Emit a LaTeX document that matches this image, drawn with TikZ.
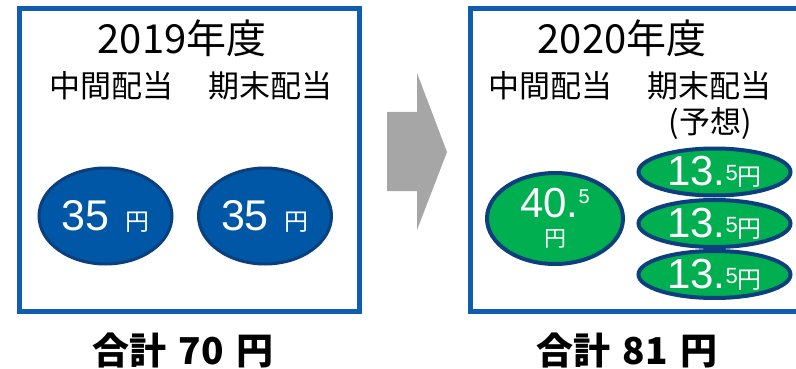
\documentclass[tikz,border=0pt]{standalone}
\usepackage{fontspec}
\setmainfont{Liberation Sans}
\newfontfamily\jp{Noto Sans CJK JP}
\usetikzlibrary{shapes.geometric}
\definecolor{frameblue}{HTML}{0F5DB0}
\definecolor{coinblue}{HTML}{0057A6}
\definecolor{coinedge}{HTML}{0B3F7D}
\definecolor{coingreen}{HTML}{00B050}
\definecolor{arrowgray}{HTML}{A6A6A6}
\tikzset{
    yearbox/.style={draw=frameblue, line width=5pt},
    title/.style={anchor=base, font=\jp\fontsize{40}{40}\selectfont},
    head/.style={anchor=base, font=\jp\fontsize{31}{31}\selectfont},
    total/.style={anchor=base, font=\jp\bfseries\fontsize{37}{37}\selectfont},
    coin/.style={ellipse, draw=coinedge, fill=coinblue, line width=3pt, text=white,
        inner sep=0pt, minimum width=133pt, minimum height=96pt},
    greencoin/.style={coin, fill=coingreen, line width=4pt},
    smallcoin/.style={greencoin, minimum width=152pt, minimum height=47pt},
}
\newcommand{\yen}[1][24]{{\jp\fontsize{#1}{#1}\selectfont 円}}
\newcommand{\half}[2]{\raisebox{#1}{\fontsize{#2}{#2}\selectfont 5}}

\begin{document}
\begin{tikzpicture}[x=1pt, y=-1pt]
    \useasboundingbox (0,0) rectangle (796,369);

    % 2019
    \draw[yearbox] (19.5,8.5) rectangle (359.5,311.5);
    \node[title] (y2019) at (182,54) {2019年度};
    \node[head] (mid19) at (111,98) {中間配当};
    \node[head] (end19) at (270,98) {期末配当};
    \node[coin] (c19a) at (105.5,216) {\fontsize{43}{43}\selectfont 35\hspace{16pt}\yen};
    \node[coin] (c19b) at (265,216) {\fontsize{43}{43}\selectfont 35\hspace{16pt}\yen};
    \node[total] (sum19) at (183,364) {合計\hspace{12pt}70\hspace{12pt}円};

    % arrow
    \fill[arrowgray] (387,112) -- (417,112) -- (417,73) -- (447,152) coordinate (tip)
        -- (417,230) -- (417,191) -- (387,191) -- cycle;

    % 2020
    \draw[yearbox] (470.5,8.5) rectangle (806,311.5);
    \node[title] (y2020) at (622,54) {2020年度};
    \node[head] (mid20) at (550,98) {中間配当};
    \node[head] (end20) at (709,98) {期末配当};
    \node[head] (plan20) at (710,133) {(予想)};
    \node[greencoin, minimum width=136pt, minimum height=91pt, align=center,
        font=\fontsize{42}{29}\selectfont] (c20)
        at (555,218.5) {40.\half{14pt}{20}\\\yen[22]};
    \foreach \y [count=\i] in {172,223.5,274.5}
        \node[smallcoin] (c20e\i) at (714.5,\y)
            {\fontsize{42}{42}\selectfont 13.\half{5pt}{22}\yen};
    \node[total] (sum20) at (627,364) {合計\hspace{12pt}81\hspace{12pt}円};
\end{tikzpicture}
\end{document}
